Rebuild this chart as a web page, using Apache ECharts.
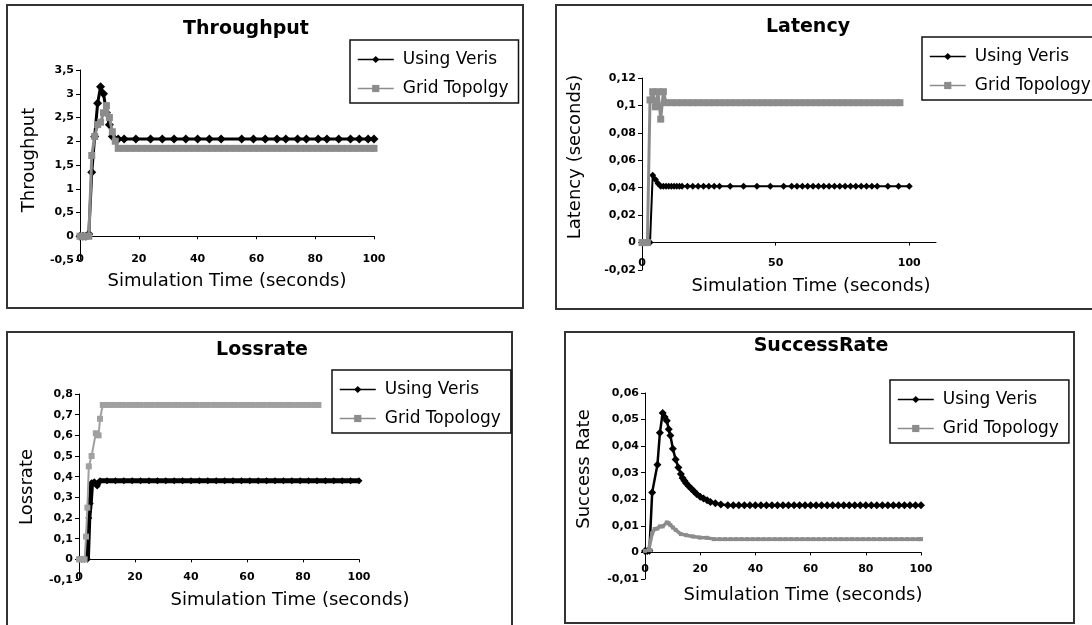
<!DOCTYPE html>
<html><head><meta charset="utf-8">
<script src="https://cdn.jsdelivr.net/npm/echarts@6/dist/echarts.min.js"></script>
<style>html,body{margin:0;padding:0;background:#fff}#c{width:1092px;height:625px}</style>
</head><body><div id="c"></div>
<script>
// ---------- data ----------
const seriesNames = ['Using Veris', 'Grid Topology'];
const seriesNamesThroughput = ['Using Veris', 'Grid Topolgy'];
const titles = ['Throughput', 'Latency', 'Lossrate', 'SuccessRate'];
const yNames = ['Throughput', 'Latency (seconds)', 'Lossrate', 'Success Rate'];
const xName = 'Simulation Time (seconds)';

const tpVerisX = [0,1,2,3,4,5,6,7,8,9,10,11,13,15,19,24,28,32,36,40,44,48,55,59,63,67,70,74,77,81,84,88,92,95,98,100];
const tpVerisY = [0,0,0,0.05,1.35,2.1,2.8,3.15,3.0,2.6,2.35,2.1,2.05,2.05,2.05,2.05,2.05,2.05,2.05,2.05,2.05,2.05,2.05,2.05,2.05,2.05,2.05,2.05,2.05,2.05,2.05,2.05,2.05,2.05,2.05,2.05];
const tpGridX = [0,1,2,3,4,5,6,7,8,9,10,11,12,13,15,17,19,21,23,25,27,29,31,33,35,37,39,41,43,45,47,49,51,53,55,57,59,61,63,65,67,69,71,73,75,77,79,81,83,85,87,89,91,93,95,97,99,100];
const tpGridY = [0,0,0,0,1.7,2.1,2.35,2.4,2.6,2.75,2.5,2.2,2.0,1.85,1.85,1.85,1.85,1.85,1.85,1.85,1.85,1.85,1.85,1.85,1.85,1.85,1.85,1.85,1.85,1.85,1.85,1.85,1.85,1.85,1.85,1.85,1.85,1.85,1.85,1.85,1.85,1.85,1.85,1.85,1.85,1.85,1.85,1.85,1.85,1.85,1.85,1.85,1.85,1.85,1.85,1.85,1.85,1.85];

const ltVerisX = [0,1,2,3,4,5,6,7,8,9,10,11,12,13,14,15,17,19,21,23,25,27,29,33,38,43,48,53,56,58,60,62,64,66,68,70,72,74,76,78,80,82,84,86,88,92,96,100];
const ltVerisY = [0,0,0,0,0.049,0.046,0.043,0.041,0.041,0.041,0.041,0.041,0.041,0.041,0.041,0.041,0.041,0.041,0.041,0.041,0.041,0.041,0.041,0.041,0.041,0.041,0.041,0.041,0.041,0.041,0.041,0.041,0.041,0.041,0.041,0.041,0.041,0.041,0.041,0.041,0.041,0.041,0.041,0.041,0.041,0.041,0.041,0.041];
const ltGridX = [0,1,2,3,4,5,6,7,8,9,11,13,15,17,19,21,23,25,27,29,31,33,35,37,39,41,43,45,47,49,51,53,55,57,59,61,63,65,67,69,71,73,75,77,79,81,83,85,87,89,91,93,95,96.5];
const ltGridY = [0,0,0,0.104,0.11,0.099,0.11,0.09,0.11,0.102,0.102,0.102,0.102,0.102,0.102,0.102,0.102,0.102,0.102,0.102,0.102,0.102,0.102,0.102,0.102,0.102,0.102,0.102,0.102,0.102,0.102,0.102,0.102,0.102,0.102,0.102,0.102,0.102,0.102,0.102,0.102,0.102,0.102,0.102,0.102,0.102,0.102,0.102,0.102,0.102,0.102,0.102,0.102,0.102];

const lrVerisX = [0,1,2,3,3.5,4,4.5,5.5,6.5,7.5,10,13,16,19,22,25,28,31,34,37,40,43,46,49,52,55,58,61,64,67,70,73,76,79,82,85,88,91,94,97,100];
const lrVerisY = [0,0,0,0,0.2,0.27,0.37,0.375,0.355,0.38,0.38,0.38,0.38,0.38,0.38,0.38,0.38,0.38,0.38,0.38,0.38,0.38,0.38,0.38,0.38,0.38,0.38,0.38,0.38,0.38,0.38,0.38,0.38,0.38,0.38,0.38,0.38,0.38,0.38,0.38,0.38];
const lrGridX = [0,1,2,2.5,3,3.5,4.5,6,7,7.5,8.5,10,12,14,16,18,20,22,24,26,28,30,32,34,36,38,40,42,44,46,48,50,52,54,56,58,60,62,64,66,68,70,72,74,76,78,80,82,84,85.5];
const lrGridY = [0,0,0,0.11,0.25,0.45,0.5,0.61,0.6,0.68,0.747,0.747,0.747,0.747,0.747,0.747,0.747,0.747,0.747,0.747,0.747,0.747,0.747,0.747,0.747,0.747,0.747,0.747,0.747,0.747,0.747,0.747,0.747,0.747,0.747,0.747,0.747,0.747,0.747,0.747,0.747,0.747,0.747,0.747,0.747,0.747,0.747,0.747,0.747,0.747];

const srVerisX = [0,0.8,1.6,2.6,4.5,5.4,6.4,7.1,7.9,8.6,9.2,10.1,11.1,12.1,13,13.6,14.3,14.9,15.8,16.8,17.7,18.7,20,21.2,22.5,23.7,25.5,27.5,30,32,34,36,38,40,42,44,46,48,50,52,54,56,58,60,62,64,66,68,70,72,74,76,78,80,82,84,86,88,90,92,94,96,98,100];
const srVerisY = [0.0005,0.0005,0.0006,0.0226,0.033,0.045,0.0525,0.051,0.0496,0.0464,0.044,0.039,0.035,0.032,0.0295,0.028,0.027,0.026,0.025,0.024,0.023,0.022,0.021,0.0203,0.0196,0.019,0.0185,0.018,0.0178,0.0178,0.0178,0.0178,0.0178,0.0178,0.0178,0.0178,0.0178,0.0178,0.0178,0.0178,0.0178,0.0178,0.0178,0.0178,0.0178,0.0178,0.0178,0.0178,0.0178,0.0178,0.0178,0.0178,0.0178,0.0178,0.0178,0.0178,0.0178,0.0178,0.0178,0.0178,0.0178,0.0178,0.0178,0.0178];
const srGridX = [0,1.3,2,2.6,3.5,4.5,5.4,6.4,7.9,8.6,9.2,10.1,11.1,13,14.9,17.4,19.9,22.4,25,27,29,31,33,35,37,39,41,43,45,47,49,51,53,55,57,59,61,63,65,67,69,71,73,75,77,79,81,83,85,87,89,91,93,95,97,99,100];
const srGridY = [0.0006,0.0009,0.0009,0.0072,0.0088,0.009,0.0098,0.0098,0.0113,0.011,0.0103,0.0094,0.0085,0.0069,0.0065,0.006,0.0056,0.0055,0.005,0.005,0.005,0.005,0.005,0.005,0.005,0.005,0.005,0.005,0.005,0.005,0.005,0.005,0.005,0.005,0.005,0.005,0.005,0.005,0.005,0.005,0.005,0.005,0.005,0.005,0.005,0.005,0.005,0.005,0.005,0.005,0.005,0.005,0.005,0.005,0.005,0.005,0.005];

// axis ranges / ticks
const xRanges = [[0,100,20],[0,110,50],[0,100,20],[0,100,20]];
const xTickValues = [[0,20,40,60,80,100],[0,50,100],[0,20,40,60,80,100],[0,20,40,60,80,100]];
const yRanges = [[-0.5,3.5,0.5],[-0.02,0.12,0.02],[-0.1,0.8,0.1],[-0.01,0.06,0.01]];

// ---------- layout / style ----------
const FONT = 'DejaVu Sans';
const BLACK = '#000';
const GRAY = '#8c8c8c';
const zip = (xs, ys) => xs.map((x, i) => [x, ys[i]]);
const fmt = v => String(Math.round(v * 1000) / 1000).replace('.', ',');

const panels = [
  { grid:{left:80,top:70,width:294,height:190}, title:{x:246,y:20}, legend:{left:350,top:40},
    xLabelMargin:-6, xNameGap:12, xNamePad:[0,0,0,0], yNameGap:42, yNamePad:[0,0,0,10],
    names: seriesNamesThroughput,
    series:[ {x:tpVerisX,y:tpVerisY,lw:3,sym:'diamond',ss:9,c:BLACK},
             {x:tpGridX,y:tpGridY,lw:3,sym:'rect',ss:7,c:GRAY} ] },
  { grid:{left:642,top:78,width:294,height:192}, title:{x:808,y:18}, legend:{left:922,top:37},
    xLabelMargin:-12, xNameGap:7, xNamePad:[0,0,0,44], yNameGap:58, yNamePad:[0,0,0,34],
    names: seriesNames,
    series:[ {x:ltVerisX,y:ltVerisY,lw:2,sym:'diamond',ss:7,c:BLACK},
             {x:ltGridX,y:ltGridY,lw:3,sym:'rect',ss:7,c:GRAY} ] },
  { grid:{left:79,top:394,width:280,height:186}, title:{x:262,y:341}, legend:{left:332,top:370},
    xLabelMargin:-8, xNameGap:11, xNamePad:[0,0,0,142], yNameGap:43, yNamePad:[0,0,0,0],
    names: seriesNames,
    series:[ {x:lrVerisX,y:lrVerisY,lw:5,sym:'diamond',ss:7,c:BLACK},
             {x:lrGridX,y:lrGridY,lw:2,sym:'rect',ss:6,c:'#a0a0a0'} ] },
  { grid:{left:645,top:393,width:276,height:186}, title:{x:821,y:337}, legend:{left:890,top:380},
    xLabelMargin:-15, xNameGap:7, xNamePad:[0,0,0,40], yNameGap:52, yNamePad:[0,0,0,34],
    names: seriesNames,
    series:[ {x:srVerisX,y:srVerisY,lw:2.5,sym:'diamond',ss:8,c:BLACK},
             {x:srGridX,y:srGridY,lw:3.5,sym:'rect',ss:4,c:GRAY} ] }
];

const option = { animation:false, backgroundColor:'#fff', grid:[], xAxis:[], yAxis:[], series:[], title:[], legend:[], graphic:[] };

panels.forEach((p, i) => {
  const [xmin, xmax, xint] = xRanges[i];
  const [ymin, ymax, yint] = yRanges[i];
  option.grid.push(Object.assign({containLabel:false}, p.grid));
  // axis drawn at y = 0 with ticks
  option.xAxis.push({ type:'value', gridIndex:i, position:'bottom', min:xmin, max:xmax, interval:xint,
    axisLine:{show:true, onZero:true, lineStyle:{color:BLACK, width:1}},
    axisTick:{show:true, length:3, customValues:xTickValues[i], lineStyle:{color:BLACK}},
    axisLabel:{show:false}, splitLine:{show:false} });
  // labels at the bottom of the plot area
  option.xAxis.push({ type:'value', gridIndex:i, position:'bottom', min:xmin, max:xmax, interval:xint,
    axisLine:{show:false, onZero:false}, axisTick:{show:false}, splitLine:{show:false},
    axisLabel:{show:true, customValues:xTickValues[i], margin:p.xLabelMargin, fontSize:11, fontWeight:'bold', fontFamily:FONT, color:BLACK},
    name:xName, nameLocation:'middle', nameGap:p.xNameGap,
    nameTextStyle:{fontSize:18, fontFamily:FONT, color:BLACK, padding:p.xNamePad} });
  option.yAxis.push({ type:'value', gridIndex:i, min:ymin, max:ymax, interval:yint,
    axisLine:{show:true, onZero:false, lineStyle:{color:BLACK, width:1}},
    axisTick:{show:true, length:4, lineStyle:{color:BLACK}},
    axisLabel:{formatter:fmt, fontSize:11, fontWeight:'bold', fontFamily:FONT, color:BLACK, margin:6},
    splitLine:{show:false},
    name:yNames[i], nameLocation:'middle', nameRotate:90, nameGap:p.yNameGap,
    nameTextStyle:{fontSize:18, fontFamily:FONT, color:BLACK, padding:p.yNamePad} });
  p.series.forEach((s, k) => {
    option.series.push({ type:'line', name:p.names[k], xAxisIndex:2*i, yAxisIndex:i,
      data:zip(s.x, s.y), symbol:s.sym, symbolSize:s.ss, showSymbol:true,
      lineStyle:{color:s.c, width:s.lw}, itemStyle:{color:s.c}, z:2+k });
  });
  option.title.push({ text:titles[i], left:p.title.x, top:p.title.y, textAlign:'center', padding:0,
    textStyle:{fontSize:19, fontWeight:'bold', fontFamily:FONT, color:BLACK} });
  option.legend.push({ data:p.names, orient:'vertical', left:p.legend.left, top:p.legend.top,
    padding:[11,10,6,7], itemGap:12, itemWidth:36, itemHeight:9,
    borderColor:'#111', borderWidth:1.5, borderRadius:0, selectedMode:false,
    lineStyle:{width:1.5},
    textStyle:{fontSize:17, fontFamily:FONT, color:BLACK, lineHeight:17, padding:[0,0,0,4]} });
});

// panel frames
const frames = [[7,5,516,303],[556,5,560,304],[7,332,505,310],[565,332,509,291]];
frames.forEach(f => option.graphic.push({ type:'rect', shape:{x:f[0],y:f[1],width:f[2],height:f[3]},
  style:{fill:'none', stroke:'#333', lineWidth:2}, z:-1 }));

const chart = echarts.init(document.getElementById('c'), null, {renderer:'canvas'});
chart.setOption(option);
</script></body></html>
